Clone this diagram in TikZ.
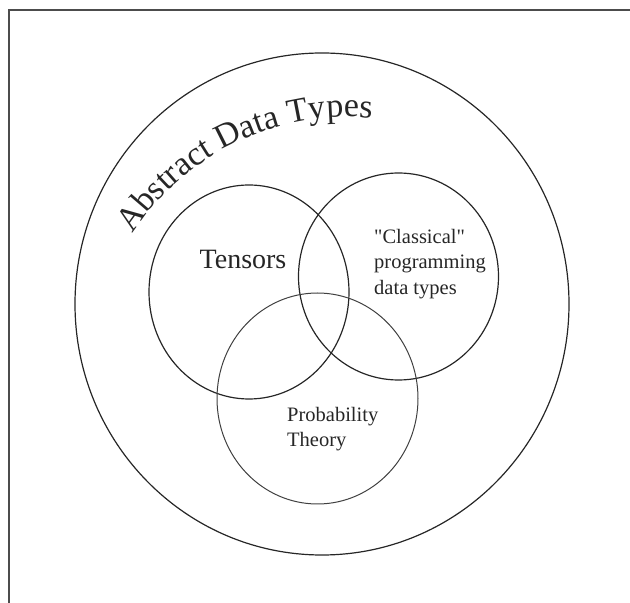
\documentclass[tikz,border=0pt]{standalone}
\usepackage{fontspec}
\setmainfont{Liberation Serif}
\newfontfamily\plainserif{Liberation Serif}
\usetikzlibrary{decorations.text,shapes.geometric}
\begin{document}
\begin{tikzpicture}[x=1pt,y=1pt,
  setc/.style={ellipse, draw=black!85, line width=1.2pt, inner sep=0pt},
  lbl/.style={align=left, text=black!85, font=\plainserif\fontsize{20.5}{25.5}\selectfont, inner sep=0pt},
  frame/.style={draw=black!70, line width=1.5pt}]
\useasboundingbox (0,0) rectangle (630,603);
% frame (only top and left edges visible)
\coordinate (ftr) at (630,593);
\coordinate (ftl) at (9,593);
\coordinate (fbl) at (9,0);
\draw[frame] (ftr) -- (ftl) -- (fbl);
% circles
\node[setc, minimum width=494pt, minimum height=502pt] (adt) at (322,299) {};
\node[setc, minimum width=200pt, minimum height=214pt] (tensors) at (249,311) {};
\node[setc, minimum width=200pt, minimum height=207pt] (classical) at (398.5,326.5) {};
\node[setc, minimum width=201pt, minimum height=211pt, draw=black!75, line width=1pt] (prob) at (317.5,204.5) {};
% curved title
\coordinate (c0) at (349,227);
\path[decorate, decoration={text along path, text align=center,
   text={|\fontsize{34}{40}\selectfont\color{black!85}|Abstract Data Types}}]
   (c0) ++(162.8:259) arc[start angle=162.8, end angle=68.8, radius=259];
% labels
\node[font=\plainserif\fontsize{28}{30}\selectfont, text=black!85, inner sep=0pt] (tlbl) at (243,344) {Tensors};
\node[lbl, anchor=west] (clbl) at (374,339) {"Classical"\\programming\\data types};
\node[lbl, anchor=west] (plbl) at (287,174) {Probability\\Theory};
\end{tikzpicture}
\end{document}
